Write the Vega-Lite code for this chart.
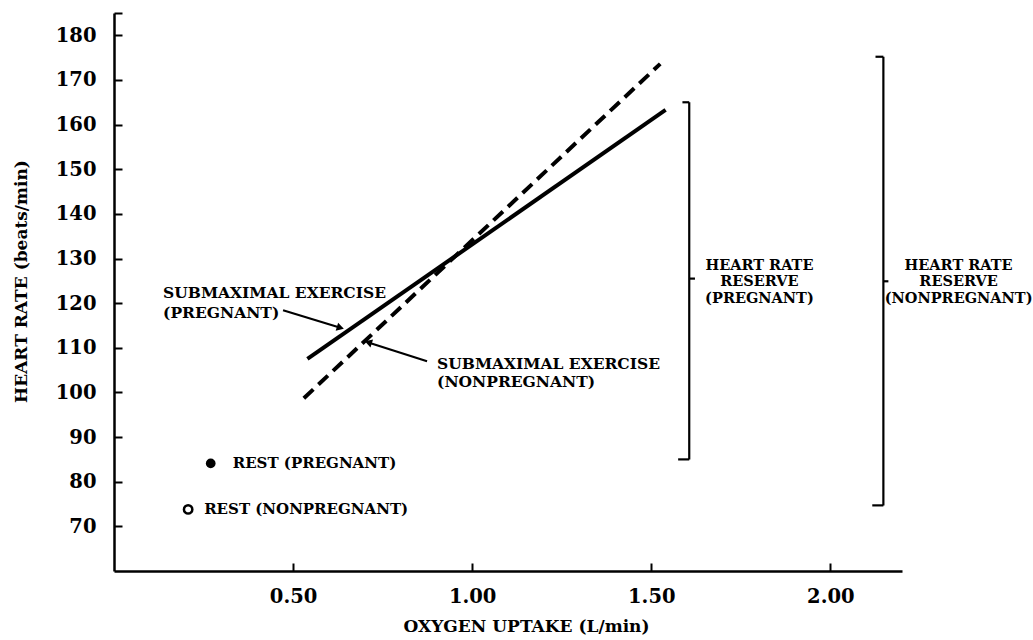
{
  "$schema": "https://vega.github.io/schema/vega-lite/v6.json",
  "width": 788,
  "height": 558,
  "autosize": {"type": "none"},
  "padding": {"left": 114, "top": 13, "right": 131, "bottom": 69},
  "background": "white",
  "config": {
    "view": {"stroke": null},
    "axis": {
      "grid": false,
      "domainColor": "black",
      "domainWidth": 2.5,
      "tickColor": "black",
      "tickWidth": 2,
      "tickSize": -8,
      "labelFont": "DejaVu Serif",
      "labelFontWeight": "bold",
      "labelFontSize": 19.5,
      "labelColor": "black",
      "titleFont": "DejaVu Serif",
      "titleFontWeight": "bold",
      "titleFontSize": 17,
      "titleColor": "black"
    },
    "text": {"font": "DejaVu Serif", "fontWeight": "bold", "color": "black"}
  },
  "datasets": {
    "lines": [
      {"series": "pregnant", "x": 0.54, "y": 107.5},
      {"series": "pregnant", "x": 1.54, "y": 163.3},
      {"series": "nonpregnant", "x": 0.53, "y": 98.7},
      {"series": "nonpregnant", "x": 1.525, "y": 173.6}
    ],
    "rest": [
      {"group": "pregnant", "x": 0.27, "y": 84.1, "label": "REST  (PREGNANT)"},
      {"group": "nonpregnant", "x": 0.207, "y": 73.8, "label": "REST  (NONPREGNANT)"}
    ],
    "rules": [
      {"x": 1.606, "x2": 1.606, "y": 85, "y2": 165},
      {"x": 1.587, "x2": 1.606, "y": 165, "y2": 165},
      {"x": 1.575, "x2": 1.606, "y": 85, "y2": 85},
      {"x": 1.606, "x2": 1.622, "y": 125.5, "y2": 125.5},
      {"x": 2.148, "x2": 2.148, "y": 74.7, "y2": 175.2},
      {"x": 2.126, "x2": 2.148, "y": 175.2, "y2": 175.2},
      {"x": 2.117, "x2": 2.148, "y": 74.7, "y2": 74.7},
      {"x": 2.148, "x2": 2.162, "y": 124.9, "y2": 124.9},
      {"x": 0.472, "x2": 0.632, "y": 118.4, "y2": 114.5},
      {"x": 0.874, "x2": 0.71, "y": 107.0, "y2": 111.2}
    ],
    "heads": [
      {"x": 0.632, "y": 114.5, "dir": "right"},
      {"x": 0.71, "y": 111.2, "dir": "left"}
    ],
    "notesLeft": [
      {"x": 0.137, "y": 122.2, "label": "SUBMAXIMAL EXERCISE"},
      {"x": 0.137, "y": 117.9, "label": "(PREGNANT)"},
      {"x": 0.902, "y": 106.3, "label": "SUBMAXIMAL EXERCISE"},
      {"x": 0.902, "y": 102.3, "label": "(NONPREGNANT)"}
    ],
    "notesCenter": [
      {"x": 1.802, "y": 128.3, "label": "HEART RATE"},
      {"x": 1.802, "y": 124.7, "label": "RESERVE"},
      {"x": 1.802, "y": 121.0, "label": "(PREGNANT)"},
      {"x": 2.358, "y": 128.3, "label": "HEART RATE"},
      {"x": 2.358, "y": 124.7, "label": "RESERVE"},
      {"x": 2.358, "y": 121.0, "label": "(NONPREGNANT)"}
    ]
  },
  "encoding": {
    "x": {
      "field": "x",
      "type": "quantitative",
      "scale": {"domain": [0, 2.2], "nice": false, "zero": false},
      "axis": {
        "values": [0.5, 1.0, 1.5, 2.0],
        "format": ".2f",
        "title": "OXYGEN  UPTAKE  (L/min)",
        "labelPadding": 24,
        "titleX": 412,
        "titleY": 55,
        "titleBaseline": "middle",
        "titleAlign": "center"
      }
    },
    "y": {
      "field": "y",
      "type": "quantitative",
      "scale": {"domain": [60, 185], "nice": false, "zero": false},
      "axis": {
        "values": [70, 80, 90, 100, 110, 120, 130, 140, 150, 160, 170, 180, 185],
        "labelExpr": "datum.value == 185 ? '' : datum.label",
        "title": "HEART  RATE  (beats/min)",
        "labelPadding": 26,
        "titleAngle": 270,
        "titleX": -93,
        "titleY": 268,
        "titleBaseline": "middle",
        "titleAlign": "center"
      }
    }
  },
  "layer": [
    {
      "data": {"name": "lines"},
      "transform": [{"filter": "datum.series == 'pregnant'"}],
      "mark": {"type": "line", "color": "black", "strokeWidth": 4}
    },
    {
      "data": {"name": "lines"},
      "transform": [{"filter": "datum.series == 'nonpregnant'"}],
      "mark": {"type": "line", "color": "black", "strokeWidth": 4, "strokeDash": [13, 7]}
    },
    {
      "data": {"name": "rules"},
      "mark": {"type": "rule", "color": "black", "strokeWidth": 2.2},
      "encoding": {"x2": {"field": "x2"}, "y2": {"field": "y2"}}
    },
    {
      "data": {"name": "heads"},
      "transform": [{"filter": "datum.dir == 'right'"}],
      "mark": {"type": "point", "shape": "triangle-right", "filled": true, "color": "black", "size": 70, "angle": 17, "opacity": 1}
    },
    {
      "data": {"name": "heads"},
      "transform": [{"filter": "datum.dir == 'left'"}],
      "mark": {"type": "point", "shape": "triangle-left", "filled": true, "color": "black", "size": 70, "angle": 18, "opacity": 1}
    },
    {
      "data": {"name": "rest"},
      "transform": [{"filter": "datum.group == 'pregnant'"}],
      "mark": {"type": "point", "shape": "circle", "filled": true, "color": "black", "size": 95, "opacity": 1}
    },
    {
      "data": {"name": "rest"},
      "transform": [{"filter": "datum.group == 'nonpregnant'"}],
      "mark": {"type": "point", "shape": "circle", "filled": false, "color": "black", "size": 70, "strokeWidth": 2.5, "opacity": 1}
    },
    {
      "data": {"name": "rest"},
      "transform": [{"filter": "datum.group == 'pregnant'"}],
      "mark": {"type": "text", "align": "left", "baseline": "middle", "dx": 22, "fontSize": 15},
      "encoding": {"text": {"field": "label"}}
    },
    {
      "data": {"name": "rest"},
      "transform": [{"filter": "datum.group == 'nonpregnant'"}],
      "mark": {"type": "text", "align": "left", "baseline": "middle", "dx": 16, "fontSize": 15},
      "encoding": {"text": {"field": "label"}}
    },
    {
      "data": {"name": "notesLeft"},
      "mark": {"type": "text", "align": "left", "baseline": "middle", "fontSize": 15.5},
      "encoding": {"text": {"field": "label"}}
    },
    {
      "data": {"name": "notesCenter"},
      "mark": {"type": "text", "align": "center", "baseline": "middle", "fontSize": 14.5},
      "encoding": {"text": {"field": "label"}}
    }
  ]
}
